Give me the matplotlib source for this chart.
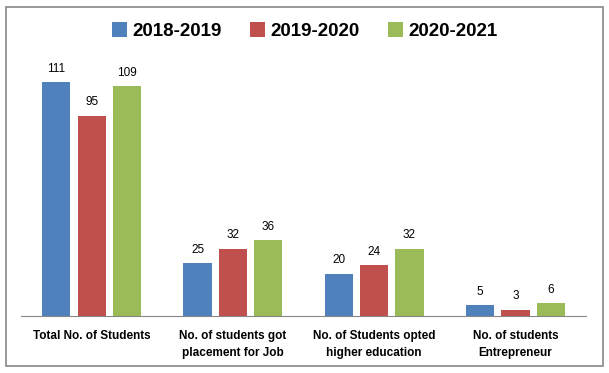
import matplotlib.pyplot as plt
import numpy as np
from matplotlib.patches import Rectangle

categories = ["Total No. of Students", "No. of students got\nplacement for Job",
              "No. of Students opted\nhigher education", "No. of students\nEntrepreneur"]
years = ["2018-2019", "2019-2020", "2020-2021"]
y2018 = [111, 25, 20, 5]
y2019 = [95, 32, 24, 3]
y2020 = [109, 36, 32, 6]
colors = ["#4F81BD", "#C0504D", "#9BBB59"]

plt.rcParams['font.family'] = ['Liberation Sans', 'DejaVu Sans']

fig = plt.figure(figsize=(6.09, 3.73), dpi=100)
# outer grey border like the excel chart area
fig.patches.append(Rectangle((6 / 609, 7 / 373), 597 / 609, 359 / 373, transform=fig.transFigure,
                             fill=False, edgecolor="#888888", linewidth=1.2))

ax = fig.add_axes([21 / 609, 57 / 373, 565 / 609, 253 / 373])

x = np.arange(len(categories))
w = 0.2
gap = 0.25
for i, (vals, lab) in enumerate(zip([y2018, y2019, y2020], years)):
    bars = ax.bar(x + (i - 1) * gap, vals, w, color=colors[i], label=lab)
    for b, v in zip(bars, vals):
        ax.text(b.get_x() + b.get_width() / 2, v + 3.5, str(v), ha="center", va="bottom", fontsize=8.5)

ax.set_xlim(-0.5, 3.5)
ax.set_ylim(0, 120)
ax.set_yticks([])
ax.set_xticks(x)
ax.set_xticklabels(categories, fontsize=8.5, fontweight="bold", linespacing=1.6)
ax.tick_params(axis="x", length=0, pad=10)
for s in ["top", "right", "left"]:
    ax.spines[s].set_visible(False)
ax.spines["bottom"].set_color("#888888")

fig.legend(loc="center", bbox_to_anchor=(0.5, 1 - 31 / 373), ncol=3, frameon=False,
           prop={"weight": "bold", "size": 13.5}, handlelength=0.8, handleheight=0.8,
           handletextpad=0.3, columnspacing=1.5)

plt.savefig("out.png", dpi=100)
